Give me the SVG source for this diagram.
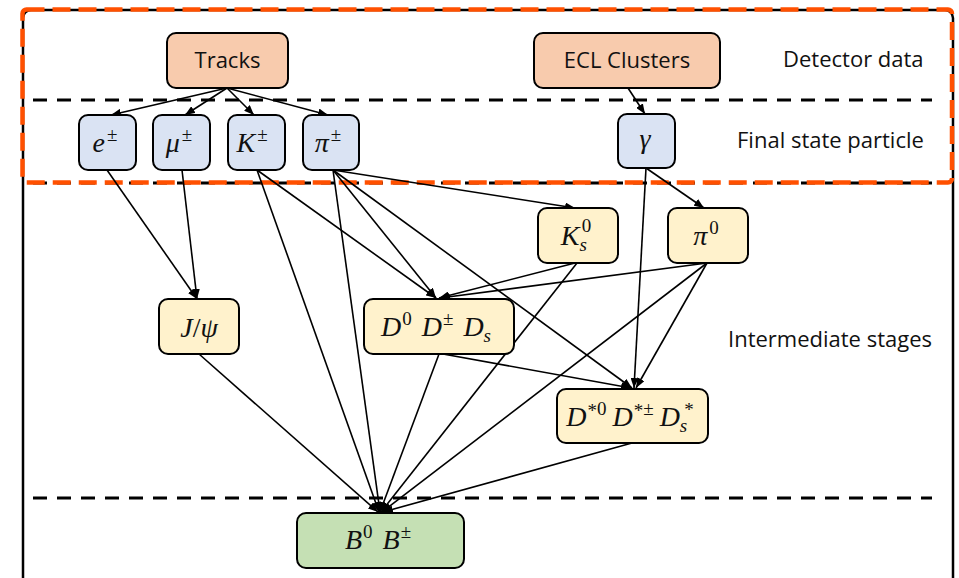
<svg xmlns="http://www.w3.org/2000/svg" width="959" height="578" viewBox="0 0 959 578">
<style>
.frame{fill:none;stroke:#000;stroke-width:2.5}
.orange{fill:none;stroke:#FF5000;stroke-width:4.5;stroke-dasharray:18 8}
.sep{stroke:#000;stroke-width:3;stroke-dasharray:14 10;fill:none}
.node rect{stroke:#000;stroke-width:2}
.det rect{fill:#F8CBAD}
.fsp rect{fill:#DAE3F3}
.mid rect{fill:#FFF2CC}
.bn rect{fill:#C5E0B4}
.t{font-family:"Open Sans","Noto Sans",sans-serif;font-size:22px;fill:#111;text-anchor:middle}
.lbl{font-family:"Open Sans","Noto Sans",sans-serif;font-size:22px;fill:#111}
.m{font-family:"Liberation Serif","DejaVu Serif",serif;font-size:28px;fill:#111;text-anchor:middle}
.i{font-style:italic}
.s{font-size:19px}
#edges line{stroke:#000;stroke-width:1.6;marker-end:url(#ah)}
</style>
<defs>
<marker id="ah" markerUnits="userSpaceOnUse" markerWidth="10" markerHeight="8" refX="10" refY="4" orient="auto">
<path d="M0,0 L10,4 L0,8 z" fill="#000"/>
</marker>
</defs>
<rect width="959" height="578" fill="#fff"/>
<g id="frames">
<rect class="frame" x="23" y="10" width="930" height="578" rx="8"/>
<line class="sep" x1="33" y1="100" x2="932" y2="100"/>
<line class="sep" x1="33" y1="183" x2="932" y2="183"/>
<line class="sep" x1="33" y1="498" x2="932" y2="498"/>
<rect class="orange" x="22.5" y="9.5" width="929.5" height="173" rx="4"/>
</g>
<g id="labels">
<text class="lbl" x="783" y="67">Detector data</text>
<text class="lbl" x="737" y="148">Final state particle</text>
<text class="lbl" x="728" y="347">Intermediate stages</text>
</g>
<g id="edges">
<line x1="227" y1="88" x2="111" y2="115"/>
<line x1="227" y1="88" x2="185" y2="115"/>
<line x1="227" y1="88" x2="254" y2="115"/>
<line x1="227" y1="88" x2="328" y2="115"/>
<line x1="628" y1="88" x2="645" y2="114"/>
<line x1="107" y1="170" x2="197" y2="299"/>
<line x1="182" y1="170" x2="197" y2="299"/>
<line x1="257" y1="170" x2="436" y2="298"/>
<line x1="257" y1="170" x2="379" y2="512"/>
<line x1="333" y1="170" x2="575" y2="208"/>
<line x1="333" y1="170" x2="436" y2="298"/>
<line x1="333" y1="170" x2="632" y2="388"/>
<line x1="333" y1="170" x2="380" y2="512"/>
<line x1="646" y1="168" x2="704" y2="208"/>
<line x1="646" y1="168" x2="634" y2="388"/>
<line x1="575" y1="263" x2="439" y2="298"/>
<line x1="577" y1="263" x2="381" y2="512"/>
<line x1="707" y1="263" x2="440" y2="298"/>
<line x1="707" y1="263" x2="636" y2="388"/>
<line x1="707" y1="263" x2="382" y2="512"/>
<line x1="199" y1="354" x2="378" y2="512"/>
<line x1="439" y1="354" x2="380" y2="512"/>
<line x1="443" y1="354" x2="631" y2="388"/>
<line x1="632" y1="443" x2="383" y2="512"/>
</g>
<g id="tracks" class="node det"><rect x="167" y="33" width="121" height="55" rx="9"/><text class="t" x="227.5" y="68">Tracks</text></g>
<g id="ecl" class="node det"><rect x="534" y="33" width="186" height="55" rx="9"/><text class="t" x="627" y="68">ECL Clusters</text></g>
<g id="e" class="node fsp"><rect x="79" y="115" width="57" height="55" rx="9"/><text class="m" x="105" y="152"><tspan class="i">e</tspan><tspan class="s" dx="2" dy="-11">±</tspan></text></g>
<g id="mu" class="node fsp"><rect x="153" y="115" width="57" height="55" rx="9"/><text class="m" x="179" y="152"><tspan class="i">μ</tspan><tspan class="s" dx="2" dy="-11">±</tspan></text></g>
<g id="K" class="node fsp"><rect x="228" y="115" width="57" height="55" rx="9"/><text class="m" x="252" y="152"><tspan class="i">K</tspan><tspan class="s" dx="2" dy="-11">±</tspan></text></g>
<g id="pi" class="node fsp"><rect x="303" y="115" width="56" height="55" rx="9"/><text class="m" x="328" y="152"><tspan class="i">π</tspan><tspan class="s" dx="2" dy="-11">±</tspan></text></g>
<g id="gamma" class="node fsp"><rect x="618" y="114" width="57" height="54" rx="9"/><text class="m" x="645" y="148"><tspan class="i">γ</tspan></text></g>
<g id="Ks" class="node mid"><rect x="538" y="208" width="80" height="55" rx="9"/><text class="m" x="576" y="245"><tspan class="i">K</tspan><tspan class="s i" dy="6">s</tspan><tspan class="s" dx="-5" dy="-19">0</tspan></text></g>
<g id="pi0" class="node mid"><rect x="668" y="208" width="80" height="55" rx="9"/><text class="m" x="706" y="245"><tspan class="i">π</tspan><tspan class="s" dx="2" dy="-11">0</tspan></text></g>
<g id="jpsi" class="node mid"><rect x="159" y="299" width="80" height="55" rx="9"/><text class="m" x="199" y="337"><tspan class="i">J</tspan>/<tspan class="i">ψ</tspan></text></g>
<g id="D" class="node mid"><rect x="364" y="299" width="150" height="55" rx="9"/><text class="m" x="436" y="336"><tspan class="i">D</tspan><tspan class="s" dx="1" dy="-11">0</tspan><tspan class="i" dx="10" dy="11">D</tspan><tspan class="s" dx="1" dy="-11">±</tspan><tspan class="i" dx="10" dy="11">D</tspan><tspan class="s i" dy="6">s</tspan></text></g>
<g id="Dstar" class="node mid"><rect x="557" y="389" width="151" height="54" rx="9"/><text class="m" x="630" y="426"><tspan class="i">D</tspan><tspan class="s" dx="1" dy="-9">*</tspan><tspan class="s" dy="-2">0</tspan><tspan class="i" dx="6" dy="11">D</tspan><tspan class="s" dx="1" dy="-9">*</tspan><tspan class="s" dy="-2">±</tspan><tspan class="i" dx="6" dy="11">D</tspan><tspan class="s i" dy="6">s</tspan><tspan class="s" dx="-3" dy="-16">*</tspan></text></g>
<g id="B" class="node bn"><rect x="297" y="513" width="167" height="55" rx="9"/><text class="m" x="378" y="549"><tspan class="i">B</tspan><tspan class="s" dx="1" dy="-11">0</tspan><tspan class="i" dx="10" dy="11">B</tspan><tspan class="s" dx="1" dy="-11">±</tspan></text></g>
</svg>
